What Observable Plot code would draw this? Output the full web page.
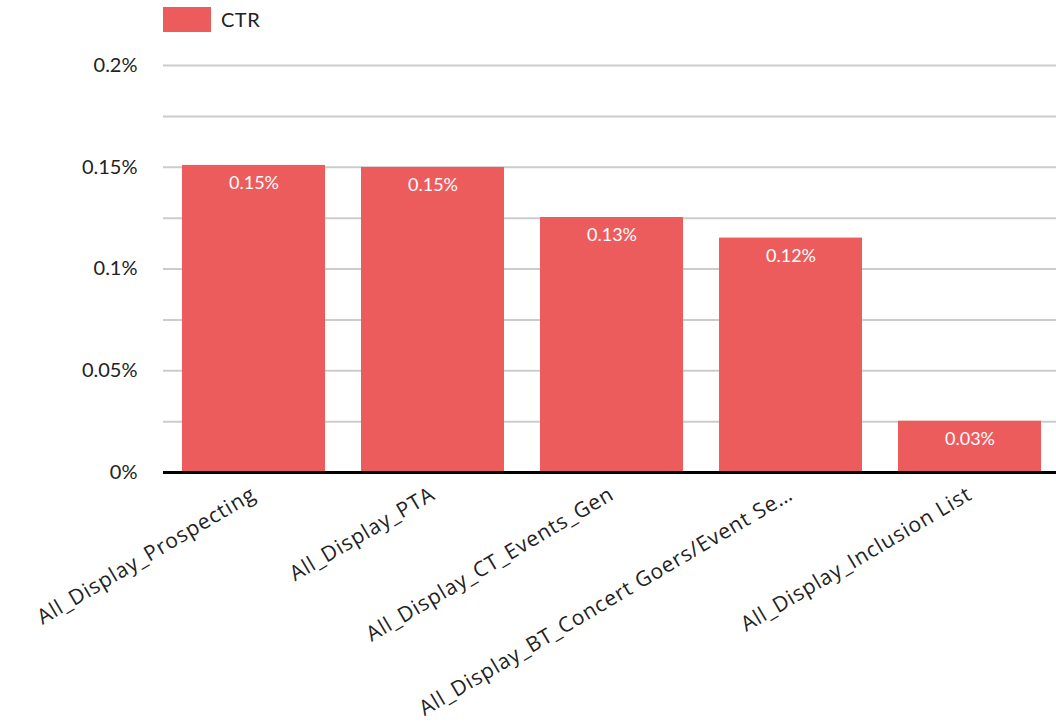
<!DOCTYPE html>
<html>
<head>
<meta charset="utf-8">
<script src="https://cdn.jsdelivr.net/npm/d3@7"></script>
<script src="https://cdn.jsdelivr.net/npm/@observablehq/plot@0.6"></script>
<style>
  html, body { margin: 0; padding: 0; background: #fff; }
  body { width: 1056px; height: 728px; overflow: hidden; font-family: Lato, "Open Sans", sans-serif; }
  #legend { height: 40px; position: relative; }
  #legend .sw { position: absolute; left: 163px; top: 7px; width: 48px; height: 25px; background: #ed5c5c; }
  #legend .lb { position: absolute; left: 221px; top: 7px; line-height: 25px; font-size: 20px; color: #222; letter-spacing: 0.5px; }
  #chart svg { display: block; }
  .xlab text { letter-spacing: 0.9px; }
</style>
</head>
<body>
<div id="legend"><div class="sw"></div><div class="lb">CTR</div></div>
<div id="chart"></div>
<script>
const categories = [
  "All_Display_Prospecting",
  "All_Display_PTA",
  "All_Display_CT_Events_Gen",
  "All_Display_BT_Concert Goers/Event Se…",
  "All_Display_Inclusion List"
];
const ctrValues = [0.1509, 0.1499, 0.1253, 0.1152, 0.0252];
const yTicks = [0, 0.05, 0.1, 0.15, 0.2];
const gridTicks = [0.025, 0.05, 0.075, 0.1, 0.125, 0.15, 0.175, 0.2];

const data = categories.map((c, i) => ({name: c, value: ctrValues[i]}));
const barColor = "#ed5c5c";
const fmtTick = d => d3.format("~g")(d) + "%";
const fmtVal = d => d3.format(".2f")(d) + "%";

const chart = Plot.plot({
  width: 1056,
  height: 688,
  marginTop: 25,
  marginBottom: 256,
  marginLeft: 163,
  marginRight: 0,
  style: {fontFamily: "Lato, 'Open Sans', sans-serif", color: "#222", background: "#fff"},
  x: {domain: categories, range: [163, 1061], paddingInner: 0.2, paddingOuter: 0.1, axis: null},
  y: {domain: [0, 0.2], axis: null},
  marks: [
    Plot.ruleY(gridTicks, {stroke: "#cccccc", strokeWidth: 2}),
    Plot.barY(data, {x: "name", y: "value", fill: barColor}),
    Plot.ruleY([0], {stroke: "#000", strokeWidth: 3}),
    Plot.text(data, {x: "name", y: "value", text: d => fmtVal(d.value), dy: 18, fill: "#fff", fontSize: 18}),
    Plot.axisY(yTicks, {tickFormat: fmtTick, tickSize: 0, tickPadding: 26, fontSize: 20, fill: "#222", label: null}),
    Plot.text(data, {x: "name", y: 0, text: "name", rotate: -30.5, textAnchor: "end", lineAnchor: "middle", dy: 20, dx: 0, fontSize: 21, fontFamily: "'Open Sans', sans-serif", fill: "#222", className: "xlab"})
  ]
});
document.getElementById("chart").appendChild(chart);
</script>
</body>
</html>
